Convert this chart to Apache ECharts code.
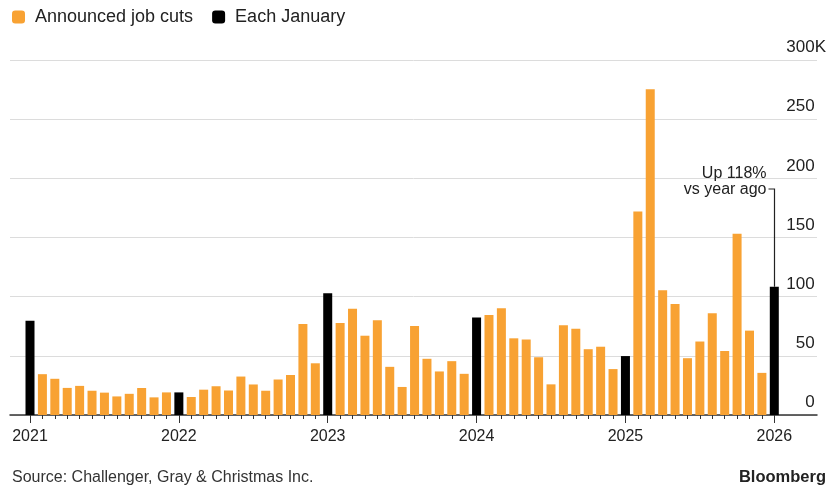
<!DOCTYPE html>
<html>
<head>
<meta charset="utf-8">
<script src="https://cdn.jsdelivr.net/npm/echarts@6/dist/echarts.min.js"></script>
<style>
  html, body { margin: 0; padding: 0; background: #fff; }
  #chart { width: 829px; height: 487px; }
</style>
</head>
<body>
<div id="chart"></div>
<script>
// monthly announced job cuts, thousands (Jan 2021 - Jan 2026)
const years = ['2021', '2022', '2023', '2024', '2025', '2026']
const cuts2021 = [79.6, 34.5, 30.6, 22.9, 24.6, 20.5, 18.9, 15.7, 17.9, 22.8, 14.9, 19.1]
const cuts2022 = [19.1, 15.2, 21.4, 24.3, 20.7, 32.5, 25.8, 20.5, 30.0, 33.8, 76.8, 43.7]
const cuts2023 = [102.9, 77.8, 89.7, 67.0, 80.1, 40.7, 23.7, 75.2, 47.5, 36.8, 45.5, 34.8]
const cuts2024 = [82.3, 84.6, 90.3, 64.8, 63.8, 48.8, 25.9, 75.9, 72.8, 55.6, 57.7, 38.8]
const cuts2025 = [49.8, 172.0, 275.2, 105.4, 93.8, 48.0, 62.1, 86.0, 54.1, 153.1, 71.3, 35.6]
const cuts2026 = [108.4]
const yTicks = [0, 50, 100, 150, 200, 250, 300]

const ORANGE = '#F8A233'
const FONT = 'Liberation Sans, Arial, sans-serif'

const allCuts = [cuts2021, cuts2022, cuts2023, cuts2024, cuts2025, cuts2026]
const months = []
const values = []
allCuts.forEach((arr, y) => {
  arr.forEach((v, m) => {
    months.push(years[y] + '-' + String(m + 1).padStart(2, '0'))
    values.push(v)
  })
})
const isJan = (i) => i % 12 === 0
const orangeData = values.map((v, i) => (isJan(i) ? '-' : v))
const janData = values.map((v, i) => (isJan(i) ? v : '-'))

const myChart = echarts.init(document.getElementById('chart'))

const option = {
  animation: false,
  textStyle: { fontFamily: FONT },
  legend: {
    left: 7,
    top: 3,
    icon: 'roundRect',
    itemWidth: 13,
    itemHeight: 13,
    itemGap: 19,
    textStyle: { fontSize: 18, color: '#222', fontFamily: FONT, padding: [0, 0, 0, 5] },
    data: ['Announced job cuts', 'Each January']
  },
  grid: [
    { left: 23.8, right: 48.5, top: 60, bottom: 72 }, // bars
    { left: 10, right: 11, top: 60, bottom: 72 } // gridlines + labels
  ],
  xAxis: [
    {
      gridIndex: 0,
      type: 'category',
      position: 'bottom',
      data: months,
      axisLine: { show: false },
      axisTick: { show: true, interval: 0, length: 4, alignWithLabel: true, lineStyle: { color: '#333', width: 1 } },
      axisLabel: { show: false }
    },
    {
      gridIndex: 0,
      type: 'category',
      position: 'bottom',
      data: months,
      axisLine: { show: false },
      axisTick: {
        show: true,
        interval: (i) => isJan(i),
        length: 8,
        alignWithLabel: true,
        lineStyle: { color: '#333', width: 1 }
      },
      axisLabel: {
        interval: (i) => isJan(i),
        formatter: (v) => v.slice(0, 4),
        margin: 14,
        fontSize: 16,
        color: '#222',
        fontFamily: FONT
      }
    },
    {
      gridIndex: 1,
      type: 'value',
      position: 'bottom',
      min: 0,
      max: 1,
      axisLine: { show: true, lineStyle: { color: '#333', width: 1.5 } },
      axisTick: { show: false },
      axisLabel: { show: false },
      splitLine: { show: false }
    }
  ],
  yAxis: [
    { gridIndex: 0, type: 'value', min: 0, max: 300, show: false },
    {
      gridIndex: 1,
      type: 'value',
      position: 'right',
      min: 0,
      max: 300,
      interval: 50,
      axisLine: { show: false },
      axisTick: { show: false },
      splitLine: { lineStyle: { color: '#dcdcdc', width: 1 } },
      axisLabel: {
        inside: true,
        margin: -9,
        verticalAlign: 'bottom',
        padding: [0, 0, 4, 0],
        formatter: (v) => (v === yTicks[yTicks.length - 1] ? '{n|' + v + 'K}' : '{n|' + v + '}{h|K}'),
        rich: {
          n: { fontSize: 17, color: '#222', fontFamily: FONT },
          h: { fontSize: 17, color: 'rgba(0,0,0,0)', fontFamily: FONT }
        }
      }
    }
  ],
  series: [
    {
      name: 'Announced job cuts',
      type: 'bar',
      xAxisIndex: 0,
      yAxisIndex: 0,
      data: orangeData,
      barWidth: 9,
      barGap: '-100%',
      itemStyle: { color: ORANGE }
    },
    {
      name: 'Each January',
      type: 'bar',
      xAxisIndex: 0,
      yAxisIndex: 0,
      data: janData,
      barWidth: 9,
      barGap: '-100%',
      itemStyle: { color: '#000' }
    }
  ],
  graphic: [
    {
      id: 'source',
      type: 'text',
      left: 12,
      top: 470,
      style: { text: 'Source: Challenger, Gray & Christmas Inc.', fontSize: 16, fill: '#333', fontFamily: FONT }
    },
    {
      id: 'brand',
      type: 'text',
      right: 3,
      top: 469,
      style: { text: 'Bloomberg', fontSize: 16.5, fontWeight: 'bold', fill: '#222', fontFamily: FONT }
    }
  ]
}

option && myChart.setOption(option)

// annotation pointing at the latest January bar
const lastIdx = months.length - 1
const barTop = myChart.convertToPixel({ xAxisIndex: 0, yAxisIndex: 0 }, [lastIdx, values[lastIdx]])
const brk = myChart.convertToPixel({ xAxisIndex: 0, yAxisIndex: 0 }, [lastIdx, 191])
const bx = Math.round(barTop[0]) + 0.5
myChart.setOption({
  graphic: [
    {
      id: 'noteText',
      type: 'text',
      z: 100,
      x: bx - 8,
      y: brk[1] - 23,
      style: {
        text: 'Up 118%\nvs year ago',
        fontSize: 16,
        lineHeight: 16,
        align: 'right',
        fill: '#222',
        fontFamily: FONT
      }
    },
    {
      id: 'noteLine',
      type: 'polyline',
      z: 100,
      shape: { points: [[bx - 6, brk[1]], [bx, brk[1]], [bx, barTop[1]]] },
      style: { stroke: '#222', lineWidth: 1.2, fill: null }
    }
  ]
})
</script>
</body>
</html>
